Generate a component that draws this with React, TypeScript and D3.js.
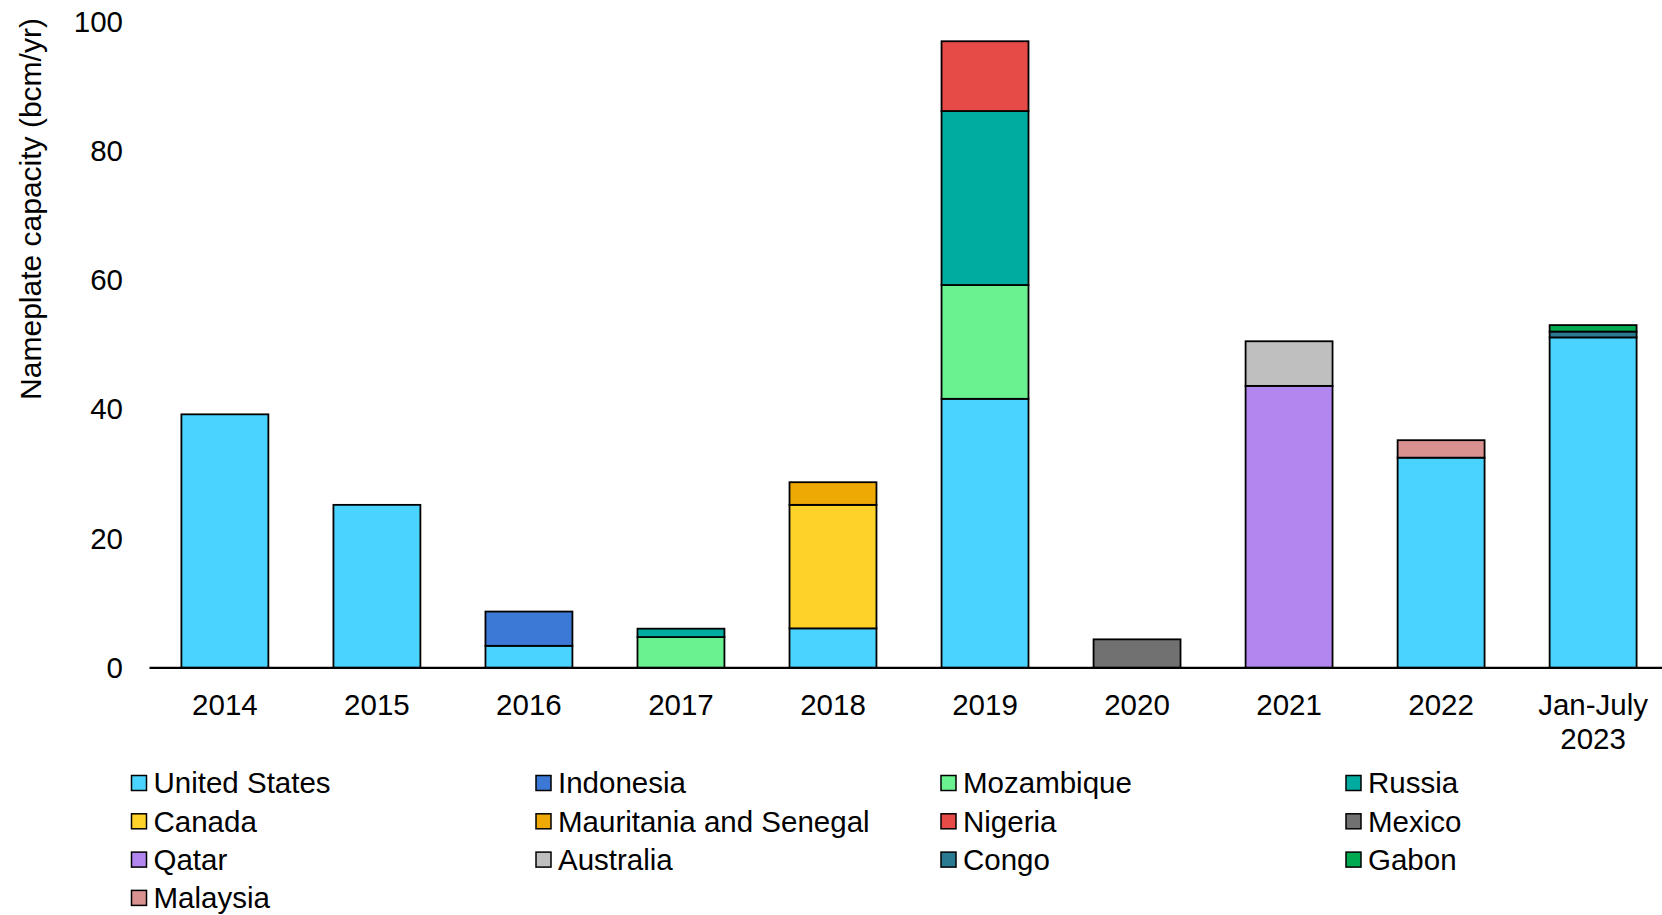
import React from "react";
import * as d3 from "d3";

const categories = ["2014", "2015", "2016", "2017", "2018", "2019", "2020", "2021", "2022", "Jan-July 2023"];

const unitedStates = [39.2, 25.2, 3.4, 0, 6.1, 41.6, 0, 0, 32.5, 51.1];
const indonesia = [0, 0, 5.3, 0, 0, 0, 0, 0, 0, 0];
const mozambique = [0, 0, 0, 4.75, 0, 17.6, 0, 0, 0, 0];
const russia = [0, 0, 0, 1.3, 0, 26.9, 0, 0, 0, 0];
const canada = [0, 0, 0, 0, 19.1, 0, 0, 0, 0, 0];
const mauritaniaSenegal = [0, 0, 0, 0, 3.5, 0, 0, 0, 0, 0];
const nigeria = [0, 0, 0, 0, 0, 10.8, 0, 0, 0, 0];
const mexico = [0, 0, 0, 0, 0, 0, 4.4, 0, 0, 0];
const qatar = [0, 0, 0, 0, 0, 0, 0, 43.6, 0, 0];
const australia = [0, 0, 0, 0, 0, 0, 0, 6.9, 0, 0];
const congo = [0, 0, 0, 0, 0, 0, 0, 0, 0, 0.9];
const gabon = [0, 0, 0, 0, 0, 0, 0, 0, 0, 1.0];
const malaysia = [0, 0, 0, 0, 0, 0, 0, 0, 2.7, 0];

const yTicks = [0, 20, 40, 60, 80, 100];

const series = [
  { name: "United States", values: unitedStates, color: "#4AD3FE" },
  { name: "Indonesia", values: indonesia, color: "#3C79D6" },
  { name: "Mozambique", values: mozambique, color: "#69F28F" },
  { name: "Russia", values: russia, color: "#00ACA0" },
  { name: "Canada", values: canada, color: "#FFD22A" },
  { name: "Mauritania and Senegal", values: mauritaniaSenegal, color: "#EFA904" },
  { name: "Nigeria", values: nigeria, color: "#E64B47" },
  { name: "Mexico", values: mexico, color: "#707170" },
  { name: "Qatar", values: qatar, color: "#B186EE" },
  { name: "Australia", values: australia, color: "#BFBFBF" },
  { name: "Congo", values: congo, color: "#2A7B92" },
  { name: "Gabon", values: gabon, color: "#00AA50" },
  { name: "Malaysia", values: malaysia, color: "#D9928F" },
];

// stacking order in bars (bottom to top)
const stackOrder = ["United States", "Canada", "Qatar", "Mozambique", "Indonesia", "Russia", "Mauritania and Senegal", "Australia", "Malaysia", "Congo", "Gabon", "Nigeria", "Mexico"];

const W = 1662;
const H = 915;
const FONT = "'Liberation Sans', Arial, sans-serif";
const FS = 29.5;

export default function App() {
  const x = d3.scaleBand<string>().domain(categories).range([151, 1667]).paddingInner(0.428).paddingOuter(0.2);
  const y = d3.scaleLinear().domain([0, 100]).range([667.8, 21.2]);

  const rows = categories.map((c, i) => {
    const r: any = { cat: c };
    series.forEach((s) => (r[s.name] = s.values[i]));
    return r;
  });
  const stacked = d3.stack<any>().keys(stackOrder)(rows);
  const colorOf = (n: string) => series.find((s) => s.name === n)!.color;

  const legendCols = [131.5, 536, 941, 1346];
  const legendRow0 = 783;
  const legendRowGap = 38.3;

  return (
    <svg width={W} height={H} style={{ position: "absolute", left: 0, top: 0, background: "#fff" }} fontFamily={FONT}>
      {stacked.map((layer) => (
        <g key={layer.key} fill={colorOf(layer.key)}>
          {layer.map((d, i) => {
            const v = d[1] - d[0];
            if (v <= 0) return null;
            return (
              <rect
                key={i}
                x={x(categories[i])}
                width={x.bandwidth()}
                y={y(d[1])}
                height={y(d[0]) - y(d[1])}
                stroke="#000"
                strokeWidth={1.8}
              />
            );
          })}
        </g>
      ))}
      <line x1={149.5} x2={1662} y1={y(0)} y2={y(0)} stroke="#000" strokeWidth={2.2} />
      {yTicks.map((t) => (
        <text key={t} x={123} y={y(t)} dy="0.35em" textAnchor="end" fontSize={FS} fill="#000">
          {t}
        </text>
      ))}
      {categories.map((c) => {
        const cx = x(c)! + x.bandwidth() / 2;
        const parts = c === "Jan-July 2023" ? ["Jan-July", "2023"] : [c];
        return (
          <text key={c} x={cx} y={705} textAnchor="middle" fontSize={FS} fill="#000">
            {parts.map((p, j) => (
              <tspan key={j} x={cx} dy={j === 0 ? "0.35em" : 34}>
                {p}
              </tspan>
            ))}
          </text>
        );
      })}
      <text
        transform={`translate(30,209) rotate(-90)`}
        textAnchor="middle"
        dy="0.35em"
        fontSize={30}
        fill="#000"
      >
        Nameplate capacity (bcm/yr)
      </text>
      {series.map((s, i) => {
        const col = i % 4;
        const row = Math.floor(i / 4);
        const lx = legendCols[col];
        const ly = legendRow0 + row * legendRowGap;
        return (
          <g key={s.name}>
            <rect x={lx} y={ly - 7.5} width={15} height={15} fill={s.color} stroke="#000" strokeWidth={1.5} />
            <text x={lx + 22} y={ly} dy="0.35em" fontSize={FS} fill="#000">
              {s.name}
            </text>
          </g>
        );
      })}
    </svg>
  );
}
